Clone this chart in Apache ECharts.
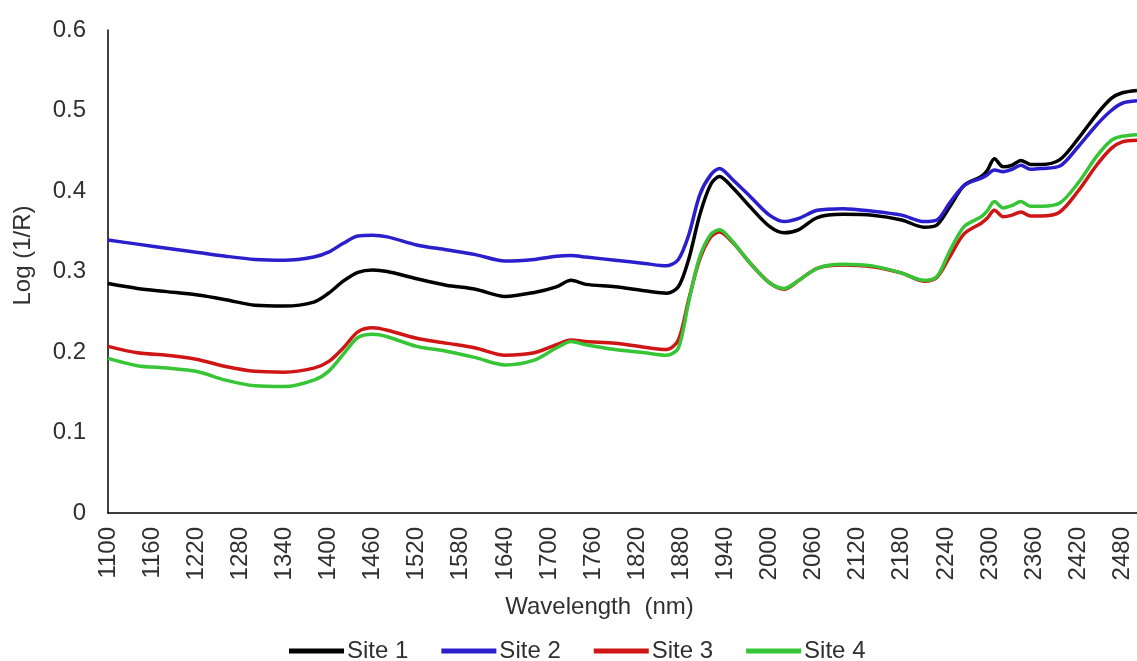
<!DOCTYPE html>
<html style="height: 100%">
<head>
<meta charset="utf-8">
<script type="text/javascript" src="https://cdn.jsdelivr.net/npm/echarts@6/dist/echarts.min.js"></script>
</head>
<body style="height: 100%; margin: 0; background: #fff">
<div id="container" style="width: 1137px; height: 661px"></div>
<script type="text/javascript">
// wavelength (nm) and Log(1/R) readings per site
var wavelengths = [1100,1140,1180,1220,1260,1300,1340,1380,1400,1420,1440,1460,1480,1520,1560,1600,1640,1680,1710,1730,1750,1790,1830,1860,1876,1890,1905,1920,1932,1950,1975,2000,2020,2040,2065,2100,2140,2180,2210,2228,2245,2265,2288,2296,2306,2318,2330,2342,2355,2370,2395,2420,2445,2465,2480,2500];
var site1 = [0.285,0.279,0.275,0.271,0.265,0.258,0.257,0.262,0.273,0.288,0.299,0.302,0.300,0.291,0.283,0.278,0.269,0.274,0.281,0.289,0.284,0.281,0.276,0.273,0.281,0.315,0.370,0.408,0.418,0.404,0.379,0.356,0.348,0.352,0.367,0.371,0.370,0.364,0.355,0.358,0.380,0.407,0.418,0.425,0.440,0.430,0.432,0.438,0.433,0.433,0.439,0.465,0.495,0.515,0.522,0.525];
var site2 = [0.339,0.334,0.329,0.324,0.319,0.315,0.314,0.318,0.324,0.335,0.344,0.345,0.343,0.333,0.327,0.321,0.313,0.315,0.319,0.320,0.318,0.314,0.310,0.307,0.315,0.345,0.395,0.420,0.428,0.414,0.392,0.370,0.362,0.366,0.376,0.378,0.375,0.370,0.362,0.364,0.385,0.407,0.416,0.420,0.426,0.424,0.427,0.432,0.427,0.428,0.431,0.455,0.482,0.500,0.509,0.512];
var site3 = [0.207,0.199,0.196,0.191,0.182,0.176,0.175,0.180,0.188,0.205,0.225,0.230,0.227,0.217,0.211,0.205,0.196,0.199,0.209,0.215,0.213,0.211,0.206,0.203,0.215,0.265,0.315,0.343,0.349,0.336,0.309,0.286,0.278,0.289,0.304,0.308,0.306,0.298,0.288,0.293,0.318,0.347,0.360,0.366,0.376,0.368,0.370,0.374,0.369,0.369,0.374,0.400,0.432,0.453,0.461,0.463];
var site4 = [0.192,0.183,0.180,0.176,0.165,0.158,0.157,0.165,0.176,0.197,0.218,0.222,0.219,0.207,0.201,0.193,0.184,0.190,0.205,0.213,0.209,0.203,0.199,0.196,0.205,0.262,0.318,0.346,0.352,0.337,0.309,0.286,0.279,0.289,0.304,0.309,0.307,0.298,0.289,0.294,0.325,0.356,0.368,0.375,0.387,0.379,0.382,0.387,0.381,0.381,0.385,0.410,0.443,0.463,0.468,0.470];
var siteNames = ['Site 1', 'Site 2', 'Site 3', 'Site 4'];
var siteColors = ['#000000', '#2B1ECC', '#D01515', '#35C535'];

var chart = echarts.init(document.getElementById('container'));
var font = 'Liberation Sans, Arial, sans-serif';
var textColor = '#303030';

function pairs(vals) {
    var out = [];
    for (var i = 0; i < wavelengths.length; i++) out.push([wavelengths[i], vals[i]]);
    return out;
}

var series = [site1, site2, site3, site4].map(function (vals, i) {
    return {
        name: siteNames[i],
        type: 'line',
        data: pairs(vals),
        showSymbol: false,
        smooth: 0.3,
        lineStyle: { color: siteColors[i], width: 3.5 },
        itemStyle: { color: siteColors[i] }
    };
});

chart.setOption({
    animation: false,
    backgroundColor: '#fff',
    grid: { left: 108, right: 0, top: 30, bottom: 148, containLabel: false },
    xAxis: {
        type: 'value',
        min: 1100, max: 2500, interval: 60,
        name: 'Wavelength  (nm)',
        nameLocation: 'middle',
        nameGap: 82,
        nameTextStyle: { fontFamily: font, fontSize: 24, color: textColor, padding: [0, 46, 0, 0] },
        axisLine: { lineStyle: { color: '#000', width: 1.5 } },
        axisTick: { show: false },
        splitLine: { show: false },
        axisLabel: {
            rotate: 90, margin: 14, fontFamily: font, fontSize: 24, color: textColor, showMaxLabel: false,
            formatter: function (v) { return String(v); }
        }
    },
    yAxis: {
        type: 'value',
        min: 0, max: 0.6, interval: 0.1,
        name: 'Log (1/R)',
        nameLocation: 'middle',
        nameGap: 73,
        nameRotate: 90,
        nameTextStyle: { fontFamily: font, fontSize: 24, color: textColor, padding: [0, 0, 0, 32] },
        axisLine: { show: true, lineStyle: { color: '#000', width: 1.5 } },
        axisTick: { show: false },
        splitLine: { show: false },
        axisLabel: { margin: 22, fontFamily: font, fontSize: 24, color: textColor }
    },
    legend: {
        data: siteNames,
        left: 284,
        top: 634,
        icon: 'rect',
        itemWidth: 55,
        itemHeight: 5,
        itemGap: 33,
        textStyle: { fontFamily: font, fontSize: 24, color: textColor, padding: [0, 0, 0, -2] }
    },
    series: series
});
</script>
</body>
</html>
